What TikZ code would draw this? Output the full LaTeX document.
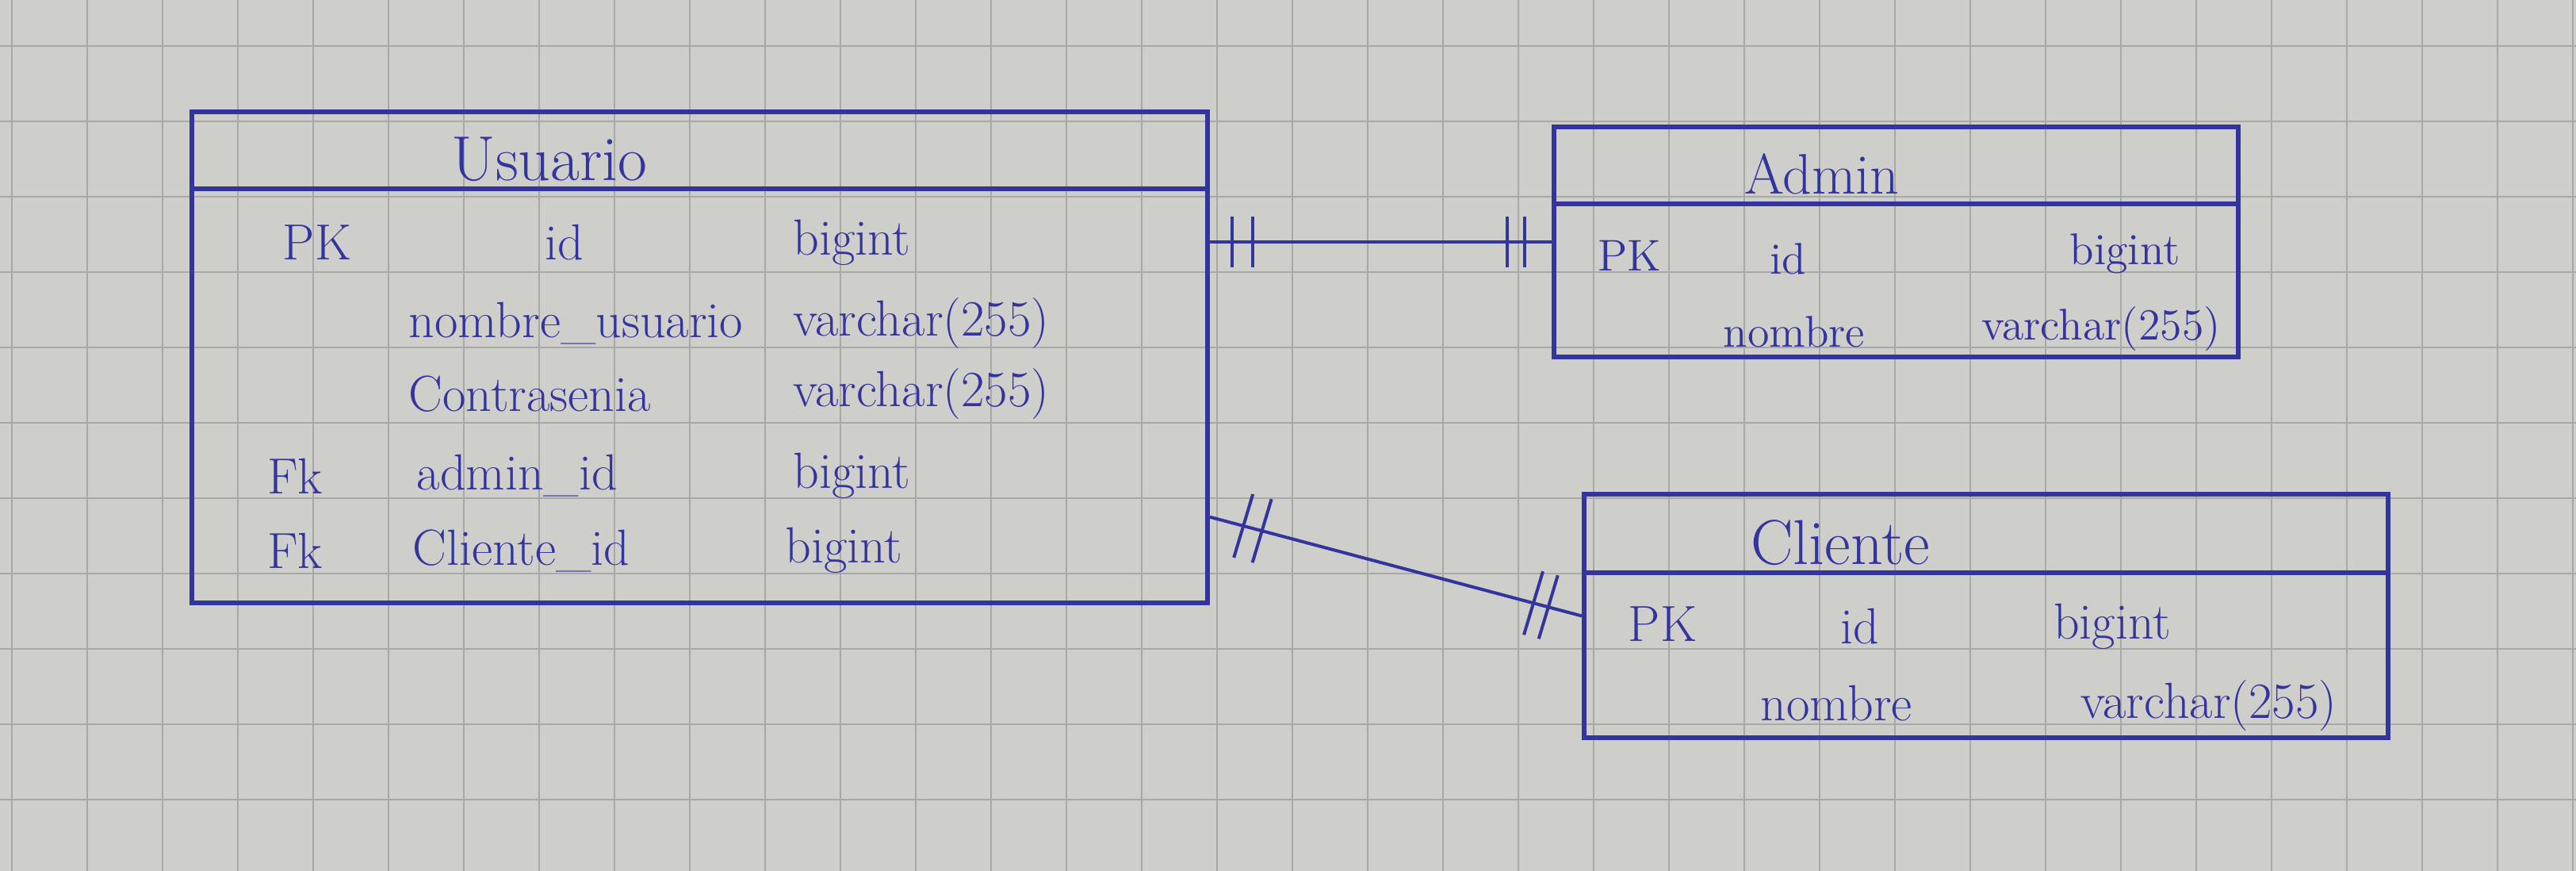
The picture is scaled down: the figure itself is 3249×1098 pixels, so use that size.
\documentclass[tikz,border=0pt]{standalone}
\usetikzlibrary{calc,fit}
\definecolor{ink}{RGB}{52,52,158}
\definecolor{paper}{RGB}{206,206,203}
\definecolor{gridc}{RGB}{168,168,166}
\begin{document}
\begin{tikzpicture}[x=0.25pt,y=-0.25pt,
  entbox/.style={draw=ink, line width=1.5pt, inner sep=0pt},
  divline/.style={draw=ink, line width=1.5pt},
  rel/.style={draw=ink, line width=1pt},
  bar/.style={draw=ink, line width=1pt},
  ttl/.style={text=ink, font=\fontsize{20}{24}\selectfont, anchor=base, inner sep=0pt},
  attU/.style={text=ink, font=\fontsize{16}{19}\selectfont, inner sep=0pt},
  attA/.style={text=ink, font=\fontsize{14}{17}\selectfont, inner sep=0pt},
  attC/.style={text=ink, font=\fontsize{16}{19}\selectfont, inner sep=0pt},
]
\fill[paper] (0,0) rectangle (3249,1098);
\useasboundingbox (0,0) rectangle (3249,1098);
\foreach \x in {15,110,...,3249} \draw[gridc, line width=0.6pt] (\x,0) -- (\x,1098);
\foreach \y in {58,153,...,1098} \draw[gridc, line width=0.6pt] (0,\y) -- (3249,\y);

% Usuario
\coordinate (u-nw) at (242,141);
\coordinate (u-se) at (1523,760);
\node[entbox, fit=(u-nw)(u-se)] (usu) {};
\coordinate (ud) at (0,238);
\draw[divline] (usu.west |- ud) -- (usu.east |- ud);
\node[ttl] (usu-t) at (693,228) {Usuario};
\node[attU] (u-pk) at (400,306) {PK};
\node[attU] (u-id) at (712,306) {id};
\node[attU, anchor=west] (u-idt) at (1000,306) {bigint};
\node[attU, anchor=west] (u-nu) at (515,408) {nombre\_usuario};
\node[attU, anchor=west] (u-nut) at (1000,408) {varchar(255)};
\node[attU, anchor=west] (u-co) at (515,497) {Contrasenia};
\node[attU, anchor=west] (u-cot) at (1000,497) {varchar(255)};
\node[attU] (u-fk1) at (372,600) {Fk};
\node[attU, anchor=west] (u-ad) at (525,600) {admin\_id};
\node[attU, anchor=west] (u-adt) at (1000,600) {bigint};
\node[attU] (u-fk2) at (372,694) {Fk};
\node[attU, anchor=west] (u-cl) at (520,694) {Cliente\_id};
\node[attU, anchor=west] (u-clt) at (990,694) {bigint};

% Admin
\coordinate (a-nw) at (1960,160);
\coordinate (a-se) at (2823,450);
\node[entbox, fit=(a-nw)(a-se)] (adm) {};
\coordinate (ad) at (0,257);
\draw[divline] (adm.west |- ad) -- (adm.east |- ad);
\node[ttl, font=\fontsize{18}{22}\selectfont] (adm-t) at (2298,245) {Admin};
\node[attA] (a-pk) at (2055,322) {PK};
\node[attA] (a-id) at (2255,326) {id};
\node[attA] (a-idt) at (2680,320) {bigint};
\node[attA] (a-no) at (2263,418) {nombre};
\node[attA] (a-not) at (2650,415) {varchar(255)};

% Cliente
\coordinate (c-nw) at (1998,623);
\coordinate (c-se) at (3012,930);
\node[entbox, fit=(c-nw)(c-se)] (cli) {};
\coordinate (cd) at (0,722);
\draw[divline] (cli.west |- cd) -- (cli.east |- cd);
\node[ttl] (cli-t) at (2321,712) {Cliente};
\node[attC] (c-pk) at (2097,787) {PK};
\node[attC] (c-id) at (2346,790) {id};
\node[attC] (c-idt) at (2664,790) {bigint};
\node[attC] (c-no) at (2316,887) {nombre};
\node[attC] (c-not) at (2786,890) {varchar(255)};

% Relationships
\coordinate (ua) at (usu.east |- adm.west);
\draw[rel] (ua) -- (adm.west);
\foreach \p in {0.066,0.126,0.87,0.92}
  \draw[bar] ($(ua)!\p!(adm.west)$) ++(0,-32) -- ++(0,64);

\coordinate (uc) at ($(usu.north east)!0.822!(usu.south east)$);
\draw[rel] (uc) -- (cli.west);
\foreach \p in {0.09,0.14,0.87,0.91}
  \draw[bar] ($(uc)!\p!(cli.west)$) ++(12,-40) -- ++(-24,80);
\end{tikzpicture}
\end{document}
